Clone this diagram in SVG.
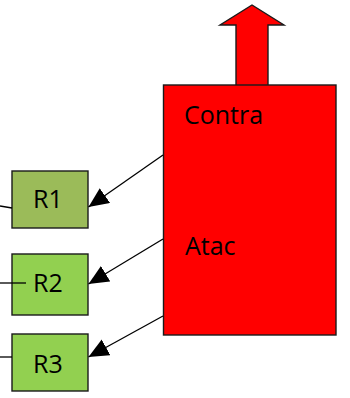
<svg xmlns="http://www.w3.org/2000/svg" width="350" height="398" viewBox="0 0 350 398">
  <style>
    .box { stroke: #1a1a1a; stroke-width: 1.4; }
    .lbl { font-family: "Open Sans", "Noto Sans", "Liberation Sans", sans-serif; font-size: 25px; fill: #000; }
    .wire { stroke: #000; stroke-width: 1.3; fill: none; }
  </style>
  <defs>
    <marker id="head" markerUnits="userSpaceOnUse" markerWidth="22" markerHeight="20" refX="20" refY="9" orient="auto">
      <path d="M0,0 L20,9 L0,18 Z" fill="#000"/>
    </marker>
  </defs>

  <g id="main">
    <path class="box" d="M236,85 V25 H220 L252,5 L284,25 H268 V85" fill="#ff0000"/>
    <rect class="box" x="163.5" y="85" width="172.5" height="250" fill="#ff0000"/>
    <text class="lbl" x="184" y="124">Contra</text>
    <text class="lbl" x="185" y="255">Atac</text>
  </g>

  <g id="r1">
    <rect class="box" x="12" y="171" width="76" height="57" fill="#9bbb59"/>
    <text class="lbl" x="33" y="208">R1</text>
  </g>
  <g id="r2">
    <rect class="box" x="12" y="254" width="76" height="61" fill="#92d050"/>
    <text class="lbl" x="33" y="292">R2</text>
  </g>
  <g id="r3">
    <rect class="box" x="12" y="334" width="76" height="57" fill="#92d050"/>
    <text class="lbl" x="33" y="373">R3</text>
  </g>

  <g id="connectors">
    <line class="wire" x1="163" y1="155" x2="88.5" y2="207" marker-end="url(#head)"/>
    <line class="wire" x1="163" y1="239" x2="88.5" y2="284" marker-end="url(#head)"/>
    <line class="wire" x1="163" y1="316" x2="88.5" y2="357" marker-end="url(#head)"/>
    <line class="wire" x1="0" y1="206" x2="12" y2="208"/>
    <line class="wire" x1="0" y1="283" x2="26" y2="283"/>
    <line class="wire" x1="0" y1="357" x2="12" y2="357"/>
  </g>
</svg>
